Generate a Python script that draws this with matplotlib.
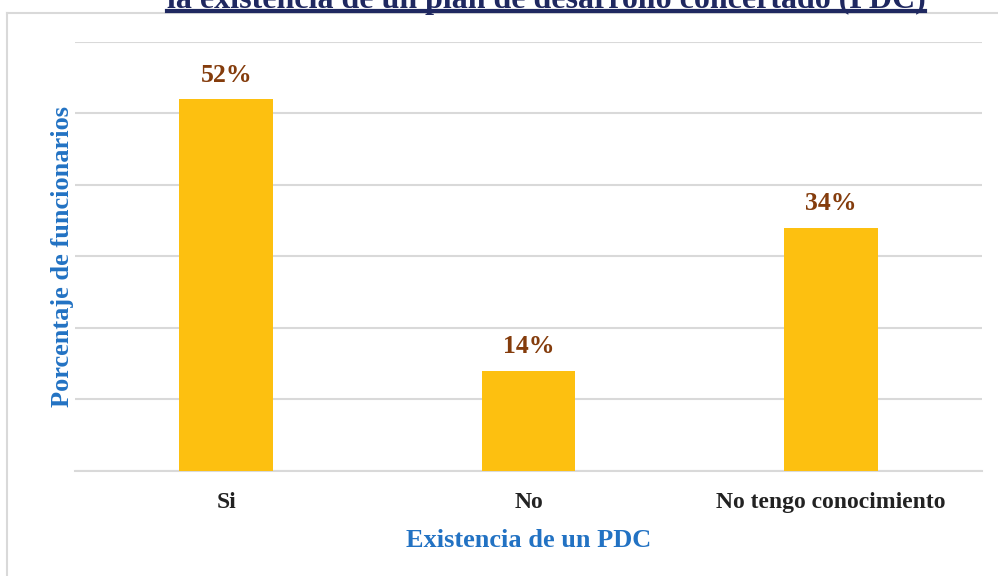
import matplotlib
matplotlib.use("Agg")
import matplotlib.pyplot as plt
from matplotlib.lines import Line2D

# datos
categorias = ["Si", "No", "No tengo conocimiento"]
porcentajes = [52, 14, 34]
etiquetas = ["52%", "14%", "34%"]

plt.rcParams['font.family'] = ['Liberation Serif', 'DejaVu Serif']
plt.rcParams['font.weight'] = 'bold'

fig = plt.figure(figsize=(9.98, 5.76), dpi=100)
ax = fig.add_axes([0.0752, 0.1823, 0.9088, 0.7448])

x = range(len(categorias))
ax.bar(x, porcentajes, width=0.31, color='#FDC010', zorder=3)

for xi, v, lab in zip(x, porcentajes, etiquetas):
    ax.annotate(lab, (xi, v), xytext=(0, 9), textcoords='offset points',
                ha='center', va='bottom', fontsize=18.5, fontweight='bold',
                color='#843C0C')

ax.set_xlim(-0.5, 2.5)
ax.set_ylim(0, 60)
ax.set_yticks(range(0, 61, 10))
ax.set_yticklabels([])
ax.tick_params(axis='y', length=0)
ax.grid(axis='y', color='#D9D9D9', linewidth=1.5, zorder=0)

ax.set_xticks(list(x))
ax.set_xticklabels(categorias, fontsize=17, fontweight='bold', color='#222222')
ax.tick_params(axis='x', length=0, pad=15)

for s in ['top', 'right', 'left']:
    ax.spines[s].set_visible(False)
ax.spines['bottom'].set_color('#D9D9D9')
ax.spines['bottom'].set_linewidth(1.5)

ax.set_xlabel('Existencia de un PDC', fontsize=19, fontweight='bold',
              color='#2272C3', labelpad=12)
ax.set_ylabel('Porcentaje de funcionarios', fontsize=19, fontweight='bold',
              color='#2272C3', labelpad=-3)

# marco del grafico (recortado por la imagen)
fig.add_artist(Line2D([0.007, 0.007], [0, 1 - 13/576], color='#D9D9D9', lw=1.5))
fig.add_artist(Line2D([0.007, 1], [1 - 13/576, 1 - 13/576], color='#D9D9D9', lw=1.5))

# titulo cortado arriba, subrayado
t = fig.text(0.547, 1 - 8/576, 'la existencia de un plan de desarrollo concertado (PDC)',
             ha='center', va='baseline', fontsize=23, fontweight='bold', color='#1F2860')
r = fig.canvas.get_renderer()
bb = t.get_window_extent(r).transformed(fig.transFigure.inverted())
yl = 1 - 11/576
fig.add_artist(Line2D([bb.x0, bb.x1], [yl, yl], color='#1F2860', lw=3))

fig.savefig('out.png', dpi=100)
